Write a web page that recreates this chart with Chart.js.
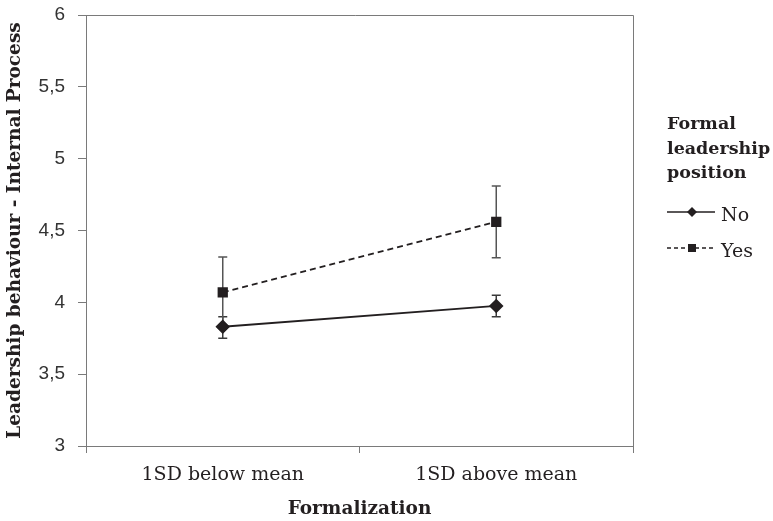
<!DOCTYPE html>
<html>
<head>
<meta charset="utf-8">
<script src="https://cdn.jsdelivr.net/npm/chart.js@4"></script>
<style>
  html, body { margin: 0; padding: 0; background: #fff; }
  #wrap { width: 773px; height: 521px; }
</style>
</head>
<body>
<div id="wrap"><canvas id="chart" width="773" height="521"></canvas></div>
<script>
// Data
const categories = ['1SD below mean', '1SD above mean'];
const noValues = [3.83, 3.975];
const noLow = [3.75, 3.90];
const noHigh = [3.90, 4.05];
const yesValues = [4.07, 4.56];
const yesLow = [3.82, 4.31];
const yesHigh = [4.315, 4.81];
const yTickLabels = ['3', '3,5', '4', '4,5', '5', '5,5', '6'];
const legendTitle = ['Formal', 'leadership', 'position'];

const ink = '#231f20';
const axisGray = '#7a7a7a';
const serif = "'DejaVu Serif', 'Liberation Serif', serif";
const sans = "'Liberation Sans', Arial, sans-serif";

// Error bars, frame and legend drawn on the canvas
const extrasPlugin = {
    id: 'extras',
    beforeDatasetsDraw(chart) {
        const ctx = chart.ctx;
        const x = chart.scales.x;
        const y = chart.scales.y;
        const bars = [
            { low: noLow, high: noHigh, color: '#3a3a3a' },
            { low: yesLow, high: yesHigh, color: '#555555' }
        ];
        ctx.save();
        bars.forEach(b => {
            ctx.strokeStyle = b.color;
            ctx.lineWidth = 1.5;
            categories.forEach((c, i) => {
                const px = x.getPixelForValue(i);
                const top = y.getPixelForValue(b.high[i]);
                const bot = y.getPixelForValue(b.low[i]);
                ctx.beginPath();
                ctx.moveTo(px, top); ctx.lineTo(px, bot);
                ctx.moveTo(px - 4.5, top); ctx.lineTo(px + 4.5, top);
                ctx.moveTo(px - 4.5, bot); ctx.lineTo(px + 4.5, bot);
                ctx.stroke();
            });
        });
        ctx.restore();
    },
    afterDraw(chart) {
        const ctx = chart.ctx;
        const a = chart.chartArea;
        ctx.save();
        // top and right frame lines
        ctx.strokeStyle = axisGray;
        ctx.lineWidth = 1;
        ctx.beginPath();
        ctx.moveTo(a.left - 8, a.top + 0.5);
        ctx.lineTo(a.right + 0.5, a.top + 0.5);
        ctx.lineTo(a.right + 0.5, a.bottom);
        ctx.stroke();

        // legend
        const lx = 667;
        ctx.fillStyle = ink;
        ctx.textBaseline = 'alphabetic';
        ctx.font = "bold 17.5px " + serif;
        legendTitle.forEach((t, i) => ctx.fillText(t, lx, 129 + i * 24.5));

        const rows = [
            { label: 'No', dash: [], y: 212, shape: 'diamond' },
            { label: 'Yes', dash: [4, 3], y: 248, shape: 'square' }
        ];
        rows.forEach(r => {
            ctx.strokeStyle = ink;
            ctx.lineWidth = 1.5;
            ctx.setLineDash(r.dash);
            ctx.beginPath();
            ctx.moveTo(lx, r.y); ctx.lineTo(lx + 48, r.y);
            ctx.stroke();
            ctx.setLineDash([]);
            ctx.fillStyle = ink;
            const cx = lx + 25;
            if (r.shape === 'diamond') {
                ctx.beginPath();
                ctx.moveTo(cx, r.y - 5); ctx.lineTo(cx + 5, r.y);
                ctx.lineTo(cx, r.y + 5); ctx.lineTo(cx - 5, r.y);
                ctx.closePath(); ctx.fill();
            } else {
                ctx.fillRect(cx - 4, r.y - 4, 8, 8);
            }
            ctx.font = "19px " + serif;
            ctx.textBaseline = 'alphabetic';
            ctx.fillText(r.label, lx + 54, r.y + 9);
        });
        ctx.restore();
    }
};

new Chart(document.getElementById('chart'), {
    type: 'line',
    data: {
        labels: categories,
        datasets: [
            {
                label: 'No',
                data: noValues,
                borderColor: ink,
                backgroundColor: ink,
                borderWidth: 1.8,
                pointStyle: 'rectRot',
                pointRadius: 6,
                pointHoverRadius: 6,
                tension: 0
            },
            {
                label: 'Yes',
                data: yesValues,
                borderColor: ink,
                backgroundColor: ink,
                borderWidth: 1.8,
                borderDash: [6, 4],
                pointStyle: 'rect',
                pointRadius: 6,
                pointHoverRadius: 6,
                tension: 0
            }
        ]
    },
    options: {
        responsive: false,
        animation: false,
        layout: { padding: { top: 15, right: 140, left: 0, bottom: 0 } },
        plugins: {
            legend: { display: false },
            tooltip: { enabled: false }
        },
        scales: {
            x: {
                offset: true,
                grid: {
                    offset: true,
                    drawOnChartArea: false,
                    tickLength: 7,
                    color: axisGray
                },
                border: { color: axisGray },
                ticks: {
                    color: ink,
                    font: { family: serif, size: 19 },
                    padding: 11
                },
                title: {
                    display: true,
                    text: 'Formalization',
                    color: ink,
                    font: { family: serif, size: 18.5, weight: 'bold' },
                    padding: { top: 6, bottom: 1 }
                },
                afterFit(scale) { scale.height = 75; }
            },
            y: {
                min: 3,
                max: 6,
                grid: {
                    drawOnChartArea: false,
                    tickLength: 8,
                    color: axisGray
                },
                border: { color: axisGray },
                ticks: {
                    stepSize: 0.5,
                    color: '#333333',
                    font: { family: sans, size: 19 },
                    padding: 13,
                    callback: (v, i) => yTickLabels[i]
                },
                title: {
                    display: true,
                    text: 'Leadership behaviour - Internal Process',
                    color: ink,
                    font: { family: serif, size: 18.5, weight: 'bold' },
                    padding: { bottom: 4 }
                },
                afterFit(scale) {
                    scale.width = 86;
                    scale.paddingTop = 0;
                    scale.paddingBottom = 0;
                }
            }
        }
    },
    plugins: [extrasPlugin]
});
</script>
</body>
</html>
